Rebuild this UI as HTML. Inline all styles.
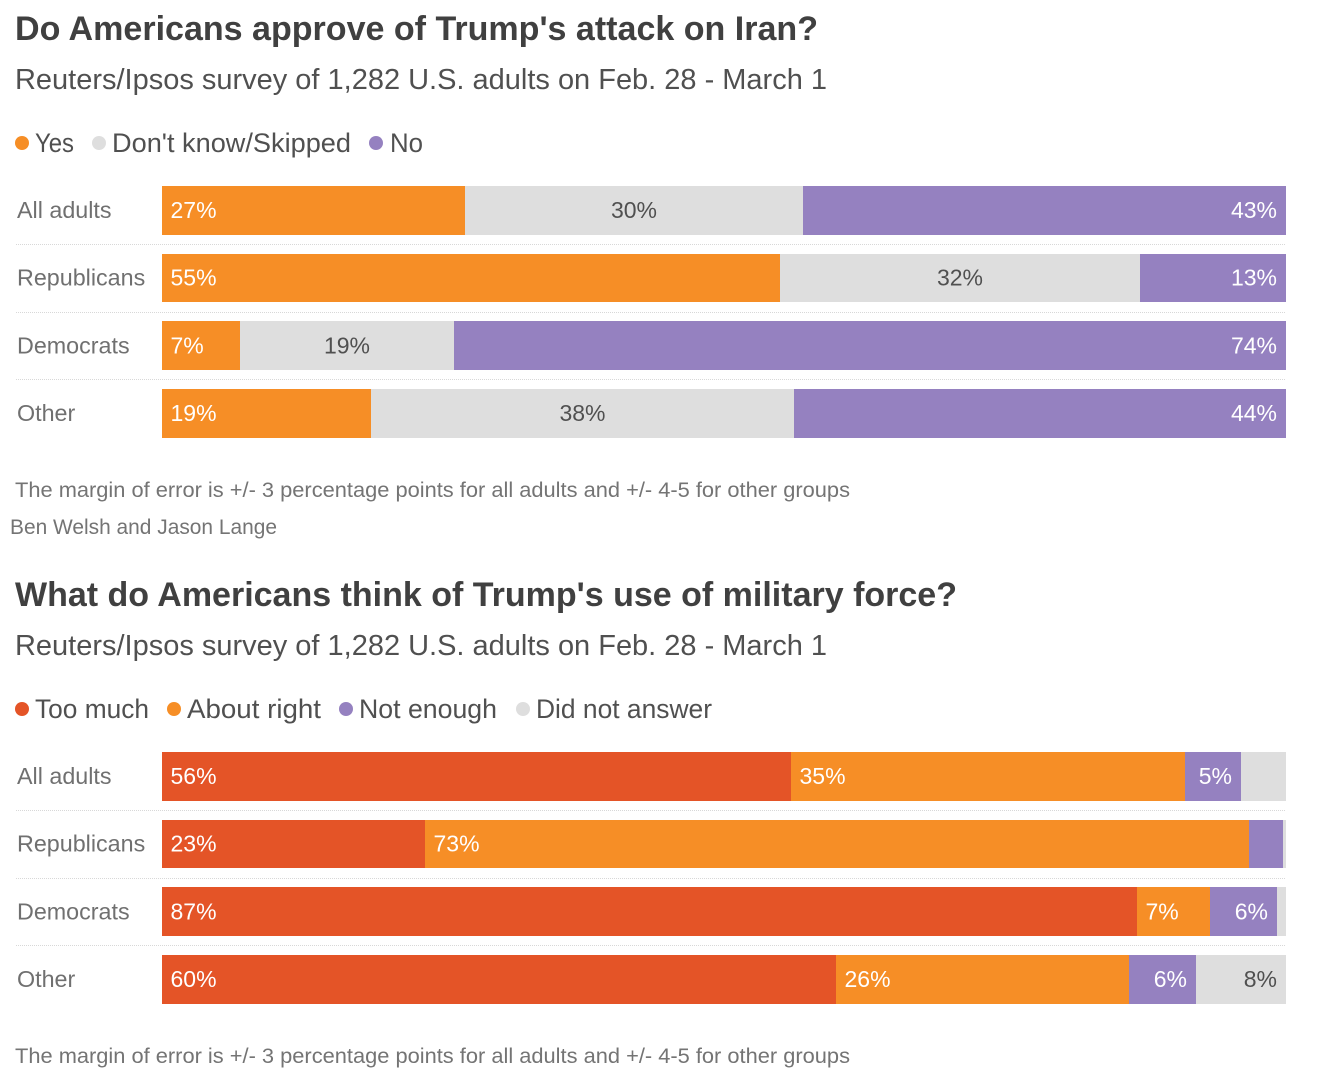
<!DOCTYPE html>
<html lang="en">
<head>
<meta charset="utf-8">
<title>Reuters/Ipsos poll charts</title>
<style>
html,body{margin:0;padding:0;background:#fff;width:1321px;height:1076px;overflow:hidden}
svg{display:block;font-family:"Liberation Sans",sans-serif}
.title{font-size:34px;font-weight:700;fill:#404040}
.sub{font-size:29px;fill:#505050}
.legend{font-size:27px;fill:#505050}
.note{font-size:21.5px;fill:#747474}
.row{font-size:23.3px;fill:#707070}
.val{font-size:23px}
rect{shape-rendering:crispEdges}
line{shape-rendering:crispEdges}
</style>
</head>
<body>
<svg id="chart" width="1321" height="1076" viewBox="0 0 1321 1076" xmlns="http://www.w3.org/2000/svg">
  <g>
    <text class="title" x="15" y="40" textLength="803" lengthAdjust="spacingAndGlyphs">Do Americans approve of Trump's attack on Iran?</text>
    <text class="sub" x="15" y="89" textLength="812" lengthAdjust="spacingAndGlyphs">Reuters/Ipsos survey of 1,282 U.S. adults on Feb. 28 - March 1</text>
  </g>
  <g>
    <circle cx="22" cy="143" r="7" fill="#f68e26"/>
    <text class="legend" x="35" y="152" textLength="39" lengthAdjust="spacingAndGlyphs">Yes</text>
    <circle cx="99" cy="143" r="7" fill="#dedede"/>
    <text class="legend" x="112" y="152" textLength="239" lengthAdjust="spacingAndGlyphs">Don't know/Skipped</text>
    <circle cx="376" cy="143" r="7" fill="#9581c0"/>
    <text class="legend" x="390" y="152" textLength="33" lengthAdjust="spacingAndGlyphs">No</text>
  </g>
  <g id="plot1"></g>
  <text class="note" x="15" y="497" textLength="835" lengthAdjust="spacingAndGlyphs">The margin of error is +/- 3 percentage points for all adults and +/- 4-5 for other groups</text>
  <text class="note" x="10" y="534" textLength="267" lengthAdjust="spacingAndGlyphs">Ben Welsh and Jason Lange</text>

  <g>
    <text class="title" x="15" y="606" textLength="942" lengthAdjust="spacingAndGlyphs">What do Americans think of Trump's use of military force?</text>
    <text class="sub" x="15" y="655" textLength="812" lengthAdjust="spacingAndGlyphs">Reuters/Ipsos survey of 1,282 U.S. adults on Feb. 28 - March 1</text>
  </g>
  <g>
    <circle cx="22" cy="709" r="7" fill="#e45427"/>
    <text class="legend" x="35" y="718" textLength="114" lengthAdjust="spacingAndGlyphs">Too much</text>
    <circle cx="174" cy="709" r="7" fill="#f68e26"/>
    <text class="legend" x="187" y="718" textLength="134" lengthAdjust="spacingAndGlyphs">About right</text>
    <circle cx="346" cy="709" r="7" fill="#9581c0"/>
    <text class="legend" x="359" y="718" textLength="138" lengthAdjust="spacingAndGlyphs">Not enough</text>
    <circle cx="523" cy="709" r="7" fill="#dedede"/>
    <text class="legend" x="536" y="718" textLength="176" lengthAdjust="spacingAndGlyphs">Did not answer</text>
  </g>
  <g id="plot2"></g>
  <text class="note" x="15" y="1063" textLength="835" lengthAdjust="spacingAndGlyphs">The margin of error is +/- 3 percentage points for all adults and +/- 4-5 for other groups</text>
</svg>
<script>
var categories = ["All adults", "Republicans", "Democrats", "Other"];

var approvalYes = [27, 55, 6.95, 18.6];
var approvalDontKnow = [30, 32, 19.05, 37.6];
var approvalNo = [43, 13, 74, 43.8];

var forceTooMuch = [56, 23.4, 86.7, 60];
var forceAboutRight = [35, 73.3, 6.5, 26];
var forceNotEnough = [5, 3, 6, 6];
var forceNoAnswer = [4, 0.3, 0.8, 8];

var NS = "http://www.w3.org/2000/svg";
var PLOT_LEFT = 162, PLOT_RIGHT = 1286, RULE_LEFT = 16;
var BAR_HEIGHT = 48.6, ROW_STEP = 67.67;

function xScale(v) {
  return Math.round(PLOT_LEFT + (PLOT_RIGHT - PLOT_LEFT) * v / 100);
}
function yScale(top, i) {
  return top + ROW_STEP * i;
}
function svgEl(tag) {
  return document.createElementNS(NS, tag);
}

function drawChart(rootId, top, seriesList) {
  var root = document.getElementById(rootId);
  categories.forEach(function (cat, i) {
    var y = yScale(top, i);
    var yTop = Math.round(y);
    var yBottom = Math.round(y + BAR_HEIGHT);

    var label = svgEl("text");
    
    
    label.setAttribute("class", "row");
    label.setAttribute("x", 17);
    label.setAttribute("y", y + 32);
    label.textContent = cat;
    root.appendChild(label);

    if (i < categories.length - 1) {
      var rule = svgEl("line");
      
      
      rule.setAttribute("x1", RULE_LEFT);
      rule.setAttribute("x2", PLOT_RIGHT);
      rule.setAttribute("y1", Math.round(y + 58) + 0.5);
      rule.setAttribute("y2", Math.round(y + 58) + 0.5);
      rule.setAttribute("stroke", "#d8d8d8");
      rule.setAttribute("stroke-width", "1");
      rule.setAttribute("stroke-dasharray", "1 1");
      root.appendChild(rule);
    }

    var cum = 0;
    seriesList.forEach(function (s) {
      var v = s.values[i];
      var x0 = xScale(cum);
      var x1 = xScale(cum + v);
      cum += v;

      var bar = svgEl("rect");
      
      
      bar.setAttribute("x", x0);
      bar.setAttribute("y", yTop);
      bar.setAttribute("width", x1 - x0);
      bar.setAttribute("height", yBottom - yTop);
      bar.setAttribute("fill", s.color);
      root.appendChild(bar);

      if (v < 4.5) return;
      var t = svgEl("text");
      
      
      t.setAttribute("class", "val");
      t.setAttribute("y", y + 32);
      t.setAttribute("fill", s.text);
      if (s.align === "start") {
        t.setAttribute("x", x0 + 8.5);
      } else if (s.align === "middle") {
        t.setAttribute("x", (x0 + x1) / 2);
        t.setAttribute("text-anchor", "middle");
      } else {
        t.setAttribute("x", x1 - 9);
        t.setAttribute("text-anchor", "end");
      }
      t.textContent = Math.round(v) + "%";
      root.appendChild(t);
    });
  });
}

drawChart("plot1", 186, [
  { values: approvalYes, color: "#f68e26", text: "#fff", align: "start" },
  { values: approvalDontKnow, color: "#dedede", text: "#505050", align: "middle" },
  { values: approvalNo, color: "#9581c0", text: "#fff", align: "end" }
]);
drawChart("plot2", 752, [
  { values: forceTooMuch, color: "#e45427", text: "#fff", align: "start" },
  { values: forceAboutRight, color: "#f68e26", text: "#fff", align: "start" },
  { values: forceNotEnough, color: "#9581c0", text: "#fff", align: "end" },
  { values: forceNoAnswer, color: "#dedede", text: "#505050", align: "end" }
]);
</script>
</body>
</html>
